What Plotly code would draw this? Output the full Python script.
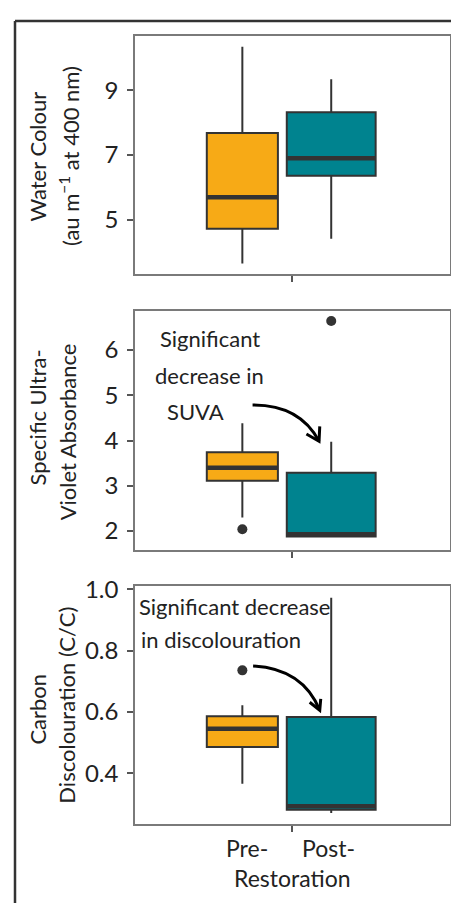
import plotly.graph_objects as go

W, H = 451, 903
FONT = "Lato"
TXT = "#222222"

# ---------------- data ----------------
groups = ["Pre-", "Post-"]
fill_colors = ["#F7AA16", "#00838F"]
box_widths = [0.8, 1.0]

# Water colour (au m-1 at 400 nm)
water_lower = [3.65, 4.41]
water_q1 = [4.72, 6.36]
water_median = [5.70, 6.90]
water_q3 = [7.68, 8.32]
water_upper = [10.35, 9.34]
water_out_group = []
water_out = []

# Specific ultra-violet absorbance
suva_lower = [2.30, 1.87]
suva_q1 = [3.11, 1.88]
suva_median = [3.40, 1.93]
suva_q3 = [3.74, 3.29]
suva_upper = [4.38, 3.97]
suva_out_group = ["Pre-", "Post-"]
suva_out = [2.04, 6.64]

# Carbon discolouration (C/C)
cd_lower = [0.366, 0.271]
cd_q1 = [0.486, 0.282]
cd_median = [0.546, 0.293]
cd_q3 = [0.586, 0.584]
cd_upper = [0.622, 0.973]
cd_out_group = ["Pre-"]
cd_out = [0.736]

panel_titles = [
    ["Water Colour", "(au m<sup>−1</sup> at 400 nm)"],
    ["Specific Ultra-", "Violet Absorbance"],
    ["Carbon", "Discolouration (C/C)"],
]
y_ticks = [[5, 7, 9], [2, 3, 4, 5, 6], [0.4, 0.6, 0.8, 1.0]]
y_tickfmt = ["d", "d", ".1f"]
y_ranges = [[3.31, 10.69], [1.585, 6.87], [0.234, 1.011]]
x_range = [-1.208, 2.331]

# ---------------- layout helpers ----------------
def px_x(p):
    return p / W

def px_y(p):
    return 1 - p / H

panel_px = [(24, 266), (302.7, 545), (581.7, 823.3)]
x_dom = [px_x(135), px_x(449.5)]

pos = {g: i for i, g in enumerate(groups)}

panels = [
    (water_lower, water_q1, water_median, water_q3, water_upper, water_out_group, water_out),
    (suva_lower, suva_q1, suva_median, suva_q3, suva_upper, suva_out_group, suva_out),
    (cd_lower, cd_q1, cd_median, cd_q3, cd_upper, cd_out_group, cd_out),
]

fig = go.Figure()

for k, (lo, q1, med, q3, up, og, ov) in enumerate(panels):
    xa = "x" if k == 0 else f"x{k+1}"
    ya = "y" if k == 0 else f"y{k+1}"
    for i, g in enumerate(groups):
        fig.add_trace(go.Box(
            x=[pos[g]], q1=[q1[i]], median=[med[i]], q3=[q3[i]],
            lowerfence=[lo[i]], upperfence=[up[i]],
            width=box_widths[i], fillcolor=fill_colors[i],
            line=dict(color="#333333", width=2), whiskerwidth=0,
            boxpoints=False, showlegend=False, hoverinfo="skip",
            xaxis=xa, yaxis=ya,
        ))
        # thick median bar
        fig.add_trace(go.Box(
            x=[pos[g]], q1=[med[i]], median=[med[i]], q3=[med[i]],
            lowerfence=[med[i]], upperfence=[med[i]],
            width=box_widths[i], fillcolor="rgba(0,0,0,0)",
            line=dict(color="#333333", width=4.5), whiskerwidth=0,
            boxpoints=False, showlegend=False, hoverinfo="skip",
            xaxis=xa, yaxis=ya,
        ))
    if ov:
        fig.add_trace(go.Scatter(
            x=[pos[g] for g in og], y=ov, mode="markers",
            marker=dict(color="#333333", size=10),
            showlegend=False, hoverinfo="skip", xaxis=xa, yaxis=ya,
        ))

axis_common = dict(
    showline=True, mirror=True, linecolor="#7a7a7a", linewidth=1.5,
    showgrid=False, zeroline=False, ticks="outside", tickcolor="#555555",
    tickwidth=1.5,
)

layout = dict(
    width=W, height=H, margin=dict(l=0, r=0, t=0, b=0),
    paper_bgcolor="white", plot_bgcolor="white", boxmode="overlay",
    font=dict(family=FONT, color=TXT),
)

for k in range(3):
    top, bot = panel_px[k]
    xk = "xaxis" if k == 0 else f"xaxis{k+1}"
    yk = "yaxis" if k == 0 else f"yaxis{k+1}"
    ya = "y" if k == 0 else f"y{k+1}"
    xa = "x" if k == 0 else f"x{k+1}"
    layout[xk] = dict(
        axis_common, domain=x_dom, range=x_range, anchor=ya,
        tickvals=[(x_range[0] + x_range[1]) / 2], showticklabels=False,
        ticklen=6,
    )
    layout[yk] = dict(
        axis_common, domain=[px_y(bot), px_y(top)], range=y_ranges[k],
        anchor=xa, tickvals=y_ticks[k], tickformat=y_tickfmt[k], ticklen=6,
        ticklabelstandoff=4,
        tickfont=dict(family=FONT, size=24, color=TXT),
    )

fig.update_layout(**layout)

annotations = []
# y-axis titles (two lines each, rotated)
title_pos = [
    [(37.5, 147), (69, 146)],
    [(38, 411), (67, 426)],
    [(38, 707), (67, 703)],
]
for k in range(3):
    for line, (px, py) in zip(panel_titles[k], title_pos[k]):
        annotations.append(dict(
            text=line, xref="paper", yref="paper", x=px_x(px), y=px_y(py),
            xanchor="center", yanchor="middle", textangle=-90, showarrow=False,
            font=dict(family=FONT, size=22, color=TXT),
        ))

# x labels
for text, px, py in [("Pre-", 247, 847), ("Post-", 328, 847), ("Restoration", 292, 878)]:
    annotations.append(dict(
        text=text, xref="paper", yref="paper", x=px_x(px), y=px_y(py),
        xanchor="center", yanchor="middle", showarrow=False,
        font=dict(family=FONT, size=23, color=TXT),
    ))

# in-panel notes
for text, px, py, anchor in [
    ("Significant", 209.5, 331, "center"),
    ("decrease in", 209, 368, "center"),
    ("SUVA", 195, 405, "center"),
    ("Significant decrease", 137, 602, "left"),
    ("in discolouration", 139, 636, "left"),
]:
    annotations.append(dict(
        text=text, xref="paper", yref="paper", x=px_x(px), y=px_y(py),
        xanchor=anchor, yanchor="middle", showarrow=False,
        font=dict(family=FONT, size=22, color=TXT),
    ))

fig.update_layout(annotations=annotations)

# curved arrows (data coordinates of each panel)
arrows = [
    dict(xref="x2", yref="y2", start=(0.115, 4.786), ctrl=(0.646, 4.793), tip=(0.863, 3.985),
         arm1=(0.721, 4.144), arm2=(0.871, 4.312)),
    dict(xref="x3", yref="y3", start=(0.121, 0.750), ctrl=(0.680, 0.7415), tip=(0.871, 0.6055),
         arm1=(0.758, 0.632), arm2=(0.882, 0.643)),
]
shapes = []
for a in arrows:
    (x0, y0), (cx, cy), (x1, y1) = a["start"], a["ctrl"], a["tip"]
    shapes.append(dict(type="path", xref=a["xref"], yref=a["yref"],
                       path=f"M {x0},{y0} Q {cx},{cy} {x1},{y1}",
                       line=dict(color="black", width=3)))
    (ax1, ay1), (ax2, ay2) = a["arm1"], a["arm2"]
    shapes.append(dict(type="path", xref=a["xref"], yref=a["yref"],
                       path=f"M {ax1},{ay1} L {x1},{y1} L {ax2},{ay2}",
                       line=dict(color="black", width=3)))

# outer frame (left and top edges)
shapes.append(dict(type="line", xref="paper", yref="paper", x0=px_x(15), x1=px_x(15),
                   y0=0, y1=px_y(9), line=dict(color="#333333", width=2.5)))
shapes.append(dict(type="line", xref="paper", yref="paper", x0=px_x(15), x1=1,
                   y0=px_y(9), y1=px_y(9), line=dict(color="#333333", width=2.5)))
fig.update_layout(shapes=shapes)

fig.write_html(
    "out.html",
    config={"displayModeBar": False},
    post_script="document.body.style.margin='0';document.body.style.overflow='hidden';",
)
